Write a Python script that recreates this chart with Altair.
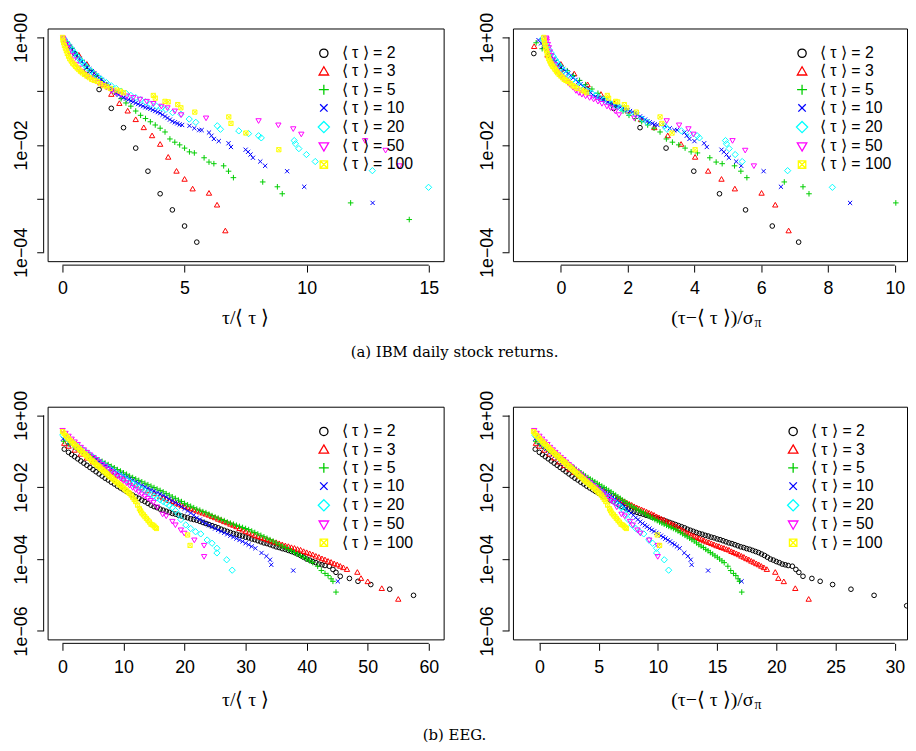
import altair as alt
import pandas as pd

SERIES = ["⟨ τ ⟩ = 2", "⟨ τ ⟩ = 3", "⟨ τ ⟩ = 5", "⟨ τ ⟩ = 10",
          "⟨ τ ⟩ = 20", "⟨ τ ⟩ = 50", "⟨ τ ⟩ = 100"]
COLORS = ["#000000", "#FF0000", "#00CD00", "#0000FF", "#00FFFF", "#FF00FF", "#FFFF00"]
SHAPES = [
    "circle",
    "M0,-1.15L1.15,0.85L-1.15,0.85Z",
    "M-1.2,0L1.2,0M0,-1.2L0,1.2",
    "M-0.9,-0.9L0.9,0.9M-0.9,0.9L0.9,-0.9",
    "M0,-1.35L1.35,0L0,1.35L-1.35,0Z",
    "M0,1.15L1.15,-0.85L-1.15,-0.85Z",
    "M-0.9,-0.9L0.9,-0.9L0.9,0.9L-0.9,0.9ZM-0.9,-0.9L0.9,0.9M-0.9,0.9L0.9,-0.9",
]

# ---------------- IBM daily stock returns ----------------
# x: tau/<tau>, z: (tau-<tau>)/sigma, lg: log10 of probability
i2_x = [0.5, 1.0, 1.5, 2.0, 2.5, 3.0, 3.5, 4.0, 4.5, 5.0, 5.5]
i2_z = [-0.81, 0.0, 0.79, 1.58, 2.37, 3.15, 3.98, 4.75, 5.53, 6.33, 7.12]
i2_lg = [-0.3, -0.62, -0.97, -1.32, -1.68, -2.06, -2.49, -2.91, -3.21, -3.51, -3.81]

i3_x = [0.33, 0.67, 1.0, 1.33, 1.67, 2.0, 2.33, 2.67, 3.0, 3.33, 3.67, 4.0, 4.33, 4.67, 5.0, 5.33, 6.0, 6.33, 6.67]
i3_z = [-0.8, -0.4, 0.0, 0.4, 0.8, 1.2, 1.6, 2.0, 2.4, 2.8, 3.2, 3.6, 4.02, 4.41, 4.81, 5.21, 6.01, 6.42, 6.82]
i3_lg = [-0.17, -0.33, -0.5, -0.68, -0.88, -1.06, -1.23, -1.37, -1.53, -1.68, -1.83, -1.99, -2.23, -2.49, -2.64, -2.82, -2.9, -3.12, -3.6]

i5_x = [0.2, 0.4, 0.6, 0.8, 1.0, 1.2, 1.4, 1.6, 1.8, 2.0,
        2.2, 2.4, 2.6, 2.8, 3.0, 3.2, 3.4, 3.6, 3.8, 4.0,
        4.2, 4.4, 4.6, 4.8, 5.0, 5.2, 5.4, 5.8, 6.0, 6.2,
        6.6, 6.8, 7.0, 8.2, 8.8, 9.0, 11.8, 14.2]
i5_z = [-0.74, -0.56, -0.37, -0.19, 0.0, 0.19, 0.37, 0.56, 0.74, 0.93,
        1.11, 1.3, 1.49, 1.67, 1.86, 2.04, 2.23, 2.42, 2.6, 2.79,
        2.97, 3.16, 3.34, 3.53, 3.72, 3.9, 4.09, 4.46, 4.65, 4.83,
        5.2, 5.39, 5.57, 6.69, 7.25, 7.43, 10.03, 12.26]
i5_lg = [-0.1, -0.21, -0.32, -0.43, -0.53, -0.62, -0.71, -0.8, -0.88, -0.96,
         -1.04, -1.14, -1.22, -1.28, -1.37, -1.45, -1.51, -1.57, -1.63, -1.69,
         -1.76, -1.89, -1.95, -2.0, -2.06, -2.13, -2.15, -2.24, -2.32, -2.35,
         -2.39, -2.49, -2.61, -2.69, -2.78, -2.91, -3.08, -3.39]

i10_x = [0.1, 0.2, 0.3, 0.4, 0.5, 0.6, 0.7, 0.8, 0.9, 1.0,
         1.1, 1.2, 1.3, 1.4, 1.5, 1.6, 1.7, 1.8, 1.9, 2.0,
         2.1, 2.2, 2.3, 2.4, 2.5, 2.6, 2.7, 2.8, 2.9, 3.0,
         3.1, 3.2, 3.3, 3.4, 3.5, 3.6, 3.7, 3.8, 3.9, 4.0,
         4.1, 4.2, 4.3, 4.4, 4.5, 4.6, 4.7, 4.8, 4.9,
         5.2, 5.4, 5.6, 5.7, 6.0, 6.1, 6.2, 6.4, 6.8, 6.9,
         7.5, 7.6, 7.7, 7.8, 8.1, 8.3, 9.2, 9.9, 12.7]
i10_z = [-0.67, -0.59, -0.52, -0.44, -0.37, -0.3, -0.22, -0.15, -0.07, 0.0,
         0.07, 0.15, 0.22, 0.3, 0.37, 0.44, 0.52, 0.59, 0.67, 0.74,
         0.81, 0.89, 0.96, 1.04, 1.11, 1.18, 1.26, 1.33, 1.41, 1.48,
         1.55, 1.63, 1.7, 1.78, 1.85, 1.92, 2.0, 2.07, 2.15, 2.22,
         2.29, 2.37, 2.44, 2.52, 2.59, 2.66, 2.74, 2.81, 2.89,
         3.11, 3.26, 3.4, 3.48, 3.7, 3.77, 3.85, 4.0, 4.29, 4.37,
         4.81, 4.88, 4.96, 5.03, 5.25, 5.4, 6.07, 6.59, 8.66]
i10_lg = [-0.05, -0.11, -0.17, -0.23, -0.29, -0.34, -0.4, -0.45, -0.5, -0.55,
          -0.59, -0.63, -0.67, -0.71, -0.75, -0.79, -0.83, -0.87, -0.91, -0.95,
          -0.99, -1.03, -1.07, -1.1, -1.12, -1.14, -1.16, -1.18, -1.2, -1.22,
          -1.24, -1.26, -1.28, -1.3, -1.31, -1.33, -1.35, -1.37, -1.39, -1.41,
          -1.44, -1.47, -1.5, -1.53, -1.56, -1.58, -1.6, -1.62, -1.63,
          -1.645, -1.69, -1.725, -1.725, -1.77, -1.83, -1.89, -1.93, -1.97, -2.04,
          -2.09, -2.13, -2.18, -2.24, -2.31, -2.39, -2.49, -2.78, -3.08]

i20_x = [0.05, 0.1, 0.2, 0.3, 0.4, 0.5, 0.6, 0.7, 0.8, 0.9,
         1.0, 1.15, 1.3, 1.45, 1.6, 1.8, 2.0, 2.2, 2.4, 2.6,
         2.8, 3.0, 3.2, 3.4, 3.6, 3.85, 4.05, 4.24, 4.51, 4.85,
         5.19, 5.46, 6.34, 6.47, 7.22, 7.62, 8.03, 8.14, 9.49, 9.54,
         9.68, 9.99, 10.35, 12.69, 14.99]
i20_z = [-0.55, -0.52, -0.46, -0.41, -0.35, -0.29, -0.23, -0.17, -0.12, -0.06,
         0.0, 0.09, 0.17, 0.26, 0.35, 0.46, 0.58, 0.7, 0.81, 0.93,
         1.05, 1.16, 1.28, 1.39, 1.51, 1.66, 1.77, 1.88, 2.04, 2.24,
         2.43, 2.59, 3.1, 3.18, 3.61, 3.85, 4.08, 4.15, 4.93, 4.96,
         5.04, 5.22, 5.43, 6.79, 8.13]
i20_lg = [-0.02, -0.05, -0.11, -0.17, -0.23, -0.29, -0.35, -0.41, -0.46, -0.51,
          -0.56, -0.62, -0.68, -0.73, -0.78, -0.84, -0.9, -0.95, -1.0, -1.04,
          -1.08, -1.12, -1.16, -1.2, -1.24, -1.28, -1.31, -1.34, -1.4, -1.43,
          -1.52, -1.58, -1.645, -1.71, -1.74, -1.79, -1.83, -1.87, -1.92, -1.98,
          -2.07, -2.18, -2.31, -2.48, -2.79]

i50_x = [0.02, 0.04, 0.08, 0.14, 0.2, 0.28, 0.36, 0.46, 0.56, 0.66,
         0.76, 0.88, 1.0, 1.14, 1.3, 1.46, 1.62, 1.8, 2.0, 2.2,
         2.4, 2.64, 2.9, 3.17, 3.45, 3.72, 4.05, 4.3, 4.6, 4.86,
         5.88, 8.03, 8.84, 9.45, 9.78, 12.39, 13.23, 13.8]
i50_z = [-0.44, -0.43, -0.42, -0.39, -0.36, -0.33, -0.29, -0.24, -0.2, -0.15,
         -0.11, -0.05, 0.0, 0.06, 0.14, 0.21, 0.28, 0.36, 0.45, 0.54,
         0.63, 0.74, 0.86, 0.98, 1.11, 1.23, 1.38, 1.49, 1.63, 1.74,
         2.2, 3.17, 3.54, 3.82, 3.97, 5.14, 5.52, 5.78]
i50_lg = [-0.01, -0.03, -0.07, -0.13, -0.19, -0.27, -0.34, -0.42, -0.5, -0.57,
          -0.63, -0.68, -0.72, -0.76, -0.8, -0.84, -0.88, -0.93, -0.99, -1.03,
          -1.06, -1.09, -1.12, -1.15, -1.19, -1.23, -1.28, -1.31, -1.37, -1.44,
          -1.5, -1.55, -1.63, -1.7, -1.8, -1.92, -2.1, -2.39]

i100_x = [0.01, 0.02, 0.05, 0.08, 0.12, 0.16, 0.2, 0.25, 0.3, 0.36,
          0.42, 0.48, 0.54, 0.6, 0.67, 0.74, 0.81, 0.9, 1.0, 1.1,
          1.2, 1.3, 1.42, 1.55, 1.7, 1.82, 1.96, 2.23, 2.37, 2.5,
          3.72, 3.8, 4.2, 4.33, 4.72, 4.85, 5.42, 6.81, 6.9, 7.51,
          8.86]
i100_z = [-0.51, -0.5, -0.49, -0.47, -0.45, -0.43, -0.41, -0.38, -0.36, -0.33,
          -0.3, -0.27, -0.24, -0.2, -0.17, -0.13, -0.1, -0.05, 0.0, 0.05,
          0.1, 0.15, 0.21, 0.28, 0.36, 0.42, 0.49, 0.63, 0.7, 0.77,
          1.39, 1.43, 1.64, 1.7, 1.9, 1.97, 2.26, 2.97, 3.02, 3.33,
          4.02]
i100_lg = [0.0, -0.05, -0.1, -0.15, -0.2, -0.25, -0.3, -0.35, -0.4, -0.44,
           -0.48, -0.51, -0.54, -0.57, -0.6, -0.63, -0.66, -0.69, -0.72, -0.75,
           -0.78, -0.8, -0.82, -0.86, -0.9, -0.92, -0.95, -0.98, -1.0, -1.03,
           -1.08, -1.13, -1.19, -1.2, -1.25, -1.31, -1.39, -1.48, -1.6, -1.78,
           -2.09]

# ---------------- EEG ----------------
e2_x = [0.3, 1, 2, 3, 4, 5, 6, 7, 8, 9,
        10, 11, 12, 13, 14, 15, 16, 17, 18, 19,
        20, 21, 22, 23, 24, 25, 26, 27, 28, 29,
        30, 31, 32, 33, 34, 35, 36, 37, 38, 39,
        40, 41, 42, 43, 43.7, 44.3, 44.8, 45.5, 47, 48.4,
        50.5, 53.6, 57.5, 63.0]
e2_z = [-0.35, 0, 0.5, 1, 1.5, 2, 2.5, 3, 3.5, 4,
        4.5, 5, 5.5, 6, 6.5, 7, 7.5, 8, 8.5, 9,
        9.5, 10, 10.5, 11, 11.5, 12, 12.5, 13, 13.5, 14,
        14.5, 15, 15.5, 16, 16.5, 17, 17.5, 18, 18.5, 19,
        19.5, 20, 20.5, 21, 21.35, 21.65, 21.9, 22.25, 23, 23.7,
        24.75, 26.3, 28.25, 31.0]
e2_lg = [-0.94, -1.03, -1.15, -1.27, -1.39, -1.51, -1.63, -1.75, -1.86, -1.97,
         -2.07, -2.17, -2.27, -2.36, -2.45, -2.54, -2.61, -2.67, -2.73, -2.78,
         -2.83, -2.88, -2.92, -2.98, -3.04, -3.1, -3.17, -3.23, -3.29, -3.34,
         -3.39, -3.44, -3.49, -3.55, -3.6, -3.66, -3.71, -3.76, -3.82, -3.9,
         -4.0, -4.07, -4.14, -4.18, -4.2, -4.29, -4.37, -4.48, -4.54, -4.62,
         -4.71, -4.84, -5.01, -5.3]
e2m_x = [1.5, 2.5, 3.5, 4.5, 5.5, 6.5, 7.5, 8.5, 9.5, 10.5,
         11.5, 12.5, 13.5, 14.5, 15.5, 16.5, 17.5, 18.5, 19.5, 20.5,
         21.5, 22.5, 23.5, 24.5, 25.5, 26.5, 27.5, 28.5, 29.5, 30.5,
         31.5, 32.5, 33.5, 34.5, 35.5, 36.5, 37.5, 38.5, 39.5, 40.5,
         41.5, 42.5]
e2m_z = [0.25, 0.75, 1.25, 1.75, 2.25, 2.75, 3.25, 3.75, 4.25, 4.75,
         5.25, 5.75, 6.25, 6.75, 7.25, 7.75, 8.25, 8.75, 9.25, 9.75,
         10.25, 10.75, 11.25, 11.75, 12.25, 12.75, 13.25, 13.75, 14.25, 14.75,
         15.25, 15.75, 16.25, 16.75, 17.25, 17.75, 18.25, 18.75, 19.25, 19.75,
         20.25, 20.75]
e2m_lg = [-1.09, -1.21, -1.33, -1.45, -1.57, -1.69, -1.8, -1.91, -2.02, -2.12,
          -2.22, -2.31, -2.4, -2.5, -2.57, -2.64, -2.7, -2.75, -2.8, -2.85,
          -2.9, -2.95, -3.01, -3.07, -3.13, -3.2, -3.26, -3.31, -3.36, -3.41,
          -3.46, -3.52, -3.57, -3.63, -3.68, -3.73, -3.79, -3.86, -3.95, -4.03,
          -4.1, -4.16]

e3_x = [0.3, 1, 2, 3, 4, 5, 6, 7, 8, 9,
        10, 11, 12, 13, 14, 15, 16, 17, 18, 19,
        20, 21, 22, 23, 24, 25, 26, 27, 28, 29,
        30, 31, 32, 33, 34, 35, 36, 37, 38, 39,
        40, 41, 42, 43, 44, 45, 46, 46.6, 48.3, 48.9,
        50, 52.3, 55]
e3_z = [-0.29, 0, 0.42, 0.84, 1.26, 1.68, 2.1, 2.53, 2.95, 3.37,
        3.79, 4.21, 4.63, 5.05, 5.47, 5.89, 6.32, 6.74, 7.16, 7.58,
        8.0, 8.42, 8.84, 9.26, 9.68, 10.1, 10.53, 10.95, 11.37, 11.79,
        12.21, 12.63, 13.05, 13.47, 13.89, 14.31, 14.74, 15.16, 15.58, 16.0,
        16.42, 16.84, 17.26, 17.68, 18.1, 18.52, 18.95, 19.2, 19.91, 20.17,
        20.63, 21.6, 22.73]
e3_lg = [-0.78, -0.86, -0.97, -1.08, -1.19, -1.3, -1.4, -1.5, -1.59, -1.68,
         -1.77, -1.86, -1.94, -2.02, -2.1, -2.18, -2.26, -2.33, -2.4, -2.47,
         -2.54, -2.6, -2.66, -2.72, -2.78, -2.85, -2.92, -2.99, -3.06, -3.15,
         -3.23, -3.3, -3.37, -3.43, -3.49, -3.54, -3.6, -3.65, -3.7, -3.75,
         -3.82, -3.88, -3.95, -4.02, -4.09, -4.16, -4.24, -4.29, -4.37, -4.54,
         -4.63, -4.82, -5.12]
e3m_x = [16.5, 17.5, 18.5, 19.5, 20.5, 21.5, 22.5, 23.5, 24.5, 25.5,
         26.5, 27.5, 28.5, 29.5, 30.5, 31.5, 32.5, 33.5, 34.5, 35.5,
         36.5, 37.5, 38.5, 39.5, 40.5, 41.5, 42.5, 43.5, 44.5, 45.5]
e3m_z = [6.53, 6.95, 7.37, 7.79, 8.21, 8.63, 9.05, 9.47, 9.89, 10.31,
         10.74, 11.16, 11.58, 12.0, 12.42, 12.84, 13.26, 13.68, 14.1, 14.52,
         14.95, 15.37, 15.79, 16.21, 16.63, 17.05, 17.47, 17.89, 18.31, 18.73]
e3m_lg = [-2.3, -2.37, -2.44, -2.5, -2.57, -2.63, -2.69, -2.75, -2.82, -2.89,
          -2.96, -3.03, -3.1, -3.19, -3.27, -3.34, -3.4, -3.46, -3.52, -3.57,
          -3.63, -3.68, -3.73, -3.79, -3.85, -3.92, -3.99, -4.06, -4.13, -4.2]

e5_x = [0.2, 1, 2, 3, 4, 5, 6, 7, 8, 9,
        10, 11, 12, 13, 14, 15, 16, 17, 18, 19,
        20, 21, 22, 23, 24, 25, 26, 27, 28, 29,
        30, 31, 32, 33, 34, 35, 36, 37, 38, 39,
        40, 41, 41.8, 42.4, 43, 43.5, 44, 44.3, 44.8]
e5_z = [-0.31, 0, 0.39, 0.78, 1.17, 1.56, 1.95, 2.34, 2.73, 3.12,
        3.51, 3.9, 4.29, 4.68, 5.07, 5.46, 5.85, 6.24, 6.63, 7.02,
        7.41, 7.8, 8.19, 8.58, 8.97, 9.36, 9.75, 10.14, 10.53, 10.92,
        11.31, 11.7, 12.09, 12.48, 12.87, 13.26, 13.65, 14.04, 14.43, 14.82,
        15.21, 15.6, 15.91, 16.15, 16.38, 16.58, 16.77, 16.89, 17.08]
e5_lg = [-0.72, -0.79, -0.88, -0.97, -1.06, -1.15, -1.24, -1.33, -1.42, -1.51,
         -1.6, -1.69, -1.77, -1.85, -1.93, -2.01, -2.09, -2.18, -2.27, -2.36,
         -2.45, -2.53, -2.61, -2.68, -2.75, -2.83, -2.9, -2.97, -3.03, -3.09,
         -3.15, -3.22, -3.3, -3.38, -3.46, -3.55, -3.64, -3.73, -3.82, -3.91,
         -4.0, -4.1, -4.2, -4.32, -4.4, -4.46, -4.55, -4.62, -4.92]
e5m_x = [4.5, 5.5, 6.5, 7.5, 8.5, 9.5, 10.5, 11.5, 12.5, 13.5,
         14.5, 15.5, 16.5, 17.5, 18.5, 19.5, 20.5, 21.5, 22.5, 23.5,
         24.5, 25.5, 26.5, 27.5, 28.5, 29.5, 30.5, 31.5, 32.5, 33.5,
         34.5, 35.5, 36.5, 37.5, 38.5, 39.5, 40.5]
e5m_z = [1.37, 1.76, 2.15, 2.54, 2.93, 3.32, 3.71, 4.1, 4.49, 4.88,
         5.27, 5.66, 6.05, 6.44, 6.83, 7.22, 7.61, 8.0, 8.39, 8.78,
         9.17, 9.56, 9.95, 10.34, 10.73, 11.12, 11.51, 11.9, 12.29, 12.68,
         13.07, 13.46, 13.85, 14.24, 14.63, 15.02, 15.41]
e5m_lg = [-1.1, -1.19, -1.28, -1.37, -1.46, -1.55, -1.64, -1.73, -1.81, -1.89,
          -1.97, -2.05, -2.13, -2.22, -2.31, -2.4, -2.49, -2.57, -2.64, -2.71,
          -2.79, -2.86, -2.93, -3.0, -3.06, -3.12, -3.18, -3.26, -3.34, -3.42,
          -3.5, -3.6, -3.68, -3.77, -3.86, -3.95, -4.05]

e10_x = [0.1, 1, 2, 3, 4, 5, 6, 7, 8, 9,
         10, 11, 12, 13, 14, 15, 16, 17, 18, 19,
         20, 21, 22, 23, 24, 25, 26, 27, 28, 29,
         30, 31, 31.6, 32.6, 33.4, 34, 34.2, 37.8, 45.1]
e10_z = [-0.35, 0, 0.39, 0.77, 1.16, 1.55, 1.94, 2.32, 2.71, 3.1,
         3.48, 3.87, 4.26, 4.64, 5.03, 5.42, 5.81, 6.19, 6.58, 6.97,
         7.35, 7.74, 8.13, 8.51, 8.9, 9.29, 9.68, 10.06, 10.45, 10.84,
         11.22, 11.61, 11.84, 12.23, 12.54, 12.77, 12.85, 14.24, 17.07]
e10_lg = [-0.65, -0.77, -0.88, -0.98, -1.08, -1.18, -1.29, -1.39, -1.49, -1.59,
          -1.68, -1.77, -1.86, -1.95, -2.03, -2.11, -2.19, -2.28, -2.38, -2.48,
          -2.6, -2.72, -2.85, -2.96, -3.06, -3.15, -3.23, -3.31, -3.39, -3.47,
          -3.56, -3.65, -3.7, -3.83, -3.92, -4.02, -4.16, -4.32, -4.62]
e10m_x = [1.5, 2.5, 3.5, 4.5, 5.5, 6.5, 7.5, 8.5, 9.5, 10.5,
          11.5, 12.5, 13.5, 14.5, 15.5, 16.5, 17.5, 18.5, 19.5, 20.5,
          21.5, 22.5, 23.5, 24.5, 25.5, 26.5, 27.5, 28.5, 29.5, 30.5]
e10m_z = [0.19, 0.58, 0.97, 1.35, 1.74, 2.13, 2.52, 2.9, 3.29, 3.68,
          4.06, 4.45, 4.84, 5.22, 5.61, 6.0, 6.39, 6.77, 7.16, 7.55,
          7.93, 8.32, 8.71, 9.09, 9.48, 9.87, 10.26, 10.64, 11.03, 11.42]
e10m_lg = [-0.82, -0.93, -1.03, -1.13, -1.23, -1.34, -1.44, -1.54, -1.63, -1.72,
           -1.81, -1.9, -1.99, -2.07, -2.15, -2.23, -2.33, -2.43, -2.54, -2.66,
           -2.78, -2.9, -3.01, -3.1, -3.19, -3.27, -3.35, -3.43, -3.51, -3.6]

e20_x = [0.05, 1, 2, 3, 4, 5, 6, 7, 8, 9,
         10, 11, 12, 13, 14, 15, 16, 17, 18, 19,
         19.4, 20.2, 21, 21.8, 22.65, 23.7, 24.5, 25.3, 25.3, 26.9,
         27.8]
e20_z = [-0.39, 0, 0.41, 0.81, 1.22, 1.63, 2.04, 2.44, 2.85, 3.26,
         3.66, 4.07, 4.48, 4.88, 5.29, 5.7, 6.1, 6.51, 6.92, 7.33,
         7.49, 7.81, 8.14, 8.47, 8.81, 9.24, 9.56, 9.89, 9.89, 10.54,
         10.91]
e20_lg = [-0.55, -0.68, -0.8, -0.92, -1.04, -1.16, -1.28, -1.4, -1.52, -1.63,
          -1.74, -1.85, -1.95, -2.05, -2.15, -2.25, -2.35, -2.45, -2.57, -2.75,
          -2.9, -3.05, -3.15, -3.24, -3.3, -3.47, -3.56, -3.7, -3.83, -4.02,
          -4.31]
e20m_x = [1.5, 2.5, 3.5, 4.5, 5.5, 6.5, 7.5, 8.5, 9.5, 10.5,
          11.5, 12.5, 13.5, 14.5, 15.5, 16.5, 17.5, 18.5]
e20m_z = [0.2, 0.61, 1.02, 1.42, 1.83, 2.24, 2.65, 3.05, 3.46, 3.87,
          4.27, 4.68, 5.09, 5.49, 5.9, 6.31, 6.72, 7.12]
e20m_lg = [-0.74, -0.86, -0.98, -1.1, -1.22, -1.34, -1.46, -1.58, -1.69, -1.8,
           -1.9, -2.0, -2.1, -2.2, -2.3, -2.4, -2.51, -2.65]

e50_x = [0.02, 1, 2, 3, 4, 5, 6, 7, 8, 9,
         10, 11, 12, 13, 14, 14.9, 15.5, 16.4, 17, 18,
         18.5, 19.4, 19.95, 21.6, 23.2, 23.2]
e50_z = [-0.44, 0, 0.45, 0.9, 1.35, 1.8, 2.25, 2.7, 3.15, 3.6,
         4.05, 4.5, 4.95, 5.4, 5.85, 6.26, 6.53, 6.93, 7.2, 7.65,
         7.88, 8.28, 8.53, 9.27, 9.99, 9.99]
e50_lg = [-0.42, -0.58, -0.74, -0.89, -1.03, -1.17, -1.3, -1.43, -1.56, -1.69,
          -1.82, -1.95, -2.07, -2.19, -2.31, -2.42, -2.55, -2.75, -2.8, -2.95,
          -3.05, -3.19, -3.28, -3.47, -3.62, -3.93]
e50m_x = [0.5, 1.5, 2.5, 3.5, 4.5, 5.5, 6.5, 7.5, 8.5, 9.5,
          10.5, 11.5, 12.5, 13.5, 14.45]
e50m_z = [-0.23, 0.23, 0.68, 1.13, 1.58, 2.03, 2.48, 2.93, 3.38, 3.83,
          4.28, 4.73, 5.18, 5.63, 6.05]
e50m_lg = [-0.5, -0.66, -0.81, -0.96, -1.1, -1.23, -1.37, -1.5, -1.63, -1.75,
           -1.88, -2.01, -2.13, -2.25, -2.37]

e100_x = [0.01, 0.5, 1, 1.5, 2, 2.5, 3, 3.5, 4, 4.5,
          5, 5.5, 6, 6.5, 7, 7.5, 8, 8.5, 9, 9.5,
          10, 10.5, 11, 11.5, 12, 12.6, 13, 13.5, 14, 14.5,
          15, 15.4, 20.5, 20.9]
e100_z = [-0.5, -0.26, 0, 0.26, 0.51, 0.77, 1.02, 1.28, 1.53, 1.79,
          2.04, 2.3, 2.55, 2.81, 3.06, 3.32, 3.57, 3.83, 4.08, 4.34,
          4.59, 4.85, 5.1, 5.36, 5.61, 5.92, 6.12, 6.38, 6.63, 6.89,
          7.14, 7.34, 9.95, 10.15]
e100_lg = [-0.45, -0.56, -0.65, -0.74, -0.82, -0.9, -0.98, -1.06, -1.13, -1.21,
           -1.28, -1.36, -1.43, -1.51, -1.58, -1.66, -1.73, -1.81, -1.88, -1.95,
           -2.02, -2.1, -2.17, -2.28, -2.4, -2.6, -2.72, -2.82, -2.92, -3.03,
           -3.08, -3.15, -3.33, -3.62]
e100m_x = [0.25, 0.75, 1.25, 1.75, 2.25, 2.75, 3.25, 3.75, 4.25, 4.75,
           5.25, 5.75, 6.25, 6.75, 7.25, 7.75, 8.25, 8.75, 9.25, 9.75,
           10.25, 10.75, 11.25, 11.75, 12.3, 12.8, 13.25, 13.75, 14.25, 14.75,
           15.2]
e100m_z = [-0.38, -0.13, 0.13, 0.38, 0.64, 0.89, 1.15, 1.4, 1.66, 1.91,
           2.17, 2.42, 2.68, 2.93, 3.19, 3.44, 3.7, 3.95, 4.21, 4.46,
           4.72, 4.97, 5.23, 5.48, 5.76, 6.02, 6.25, 6.5, 6.76, 7.01,
           7.24]
e100m_lg = [-0.5, -0.6, -0.7, -0.78, -0.86, -0.94, -1.02, -1.1, -1.17, -1.25,
            -1.32, -1.4, -1.47, -1.55, -1.62, -1.7, -1.77, -1.85, -1.92, -1.99,
            -2.06, -2.14, -2.22, -2.34, -2.5, -2.66, -2.77, -2.87, -2.97, -3.05,
            -3.12]


def frame(groups):
    """groups: per series, a list of (positions, log10 values) pairs."""
    rows = []
    for name, parts in zip(SERIES, groups):
        for xs, lgs in parts:
            for xv, g in zip(xs, lgs):
                rows.append({"x": xv, "y": 10 ** g, "s": name})
    return pd.DataFrame(rows)


df1 = frame([[(i2_x, i2_lg)], [(i3_x, i3_lg)], [(i5_x, i5_lg)], [(i10_x, i10_lg)],
             [(i20_x, i20_lg)], [(i50_x, i50_lg)], [(i100_x, i100_lg)]])
df2 = frame([[(i2_z, i2_lg)], [(i3_z, i3_lg)], [(i5_z, i5_lg)], [(i10_z, i10_lg)],
             [(i20_z, i20_lg)], [(i50_z, i50_lg)], [(i100_z, i100_lg)]])
df3 = frame([[(e2_x, e2_lg), (e2m_x, e2m_lg)], [(e3_x, e3_lg), (e3m_x, e3m_lg)],
             [(e5_x, e5_lg), (e5m_x, e5m_lg)], [(e10_x, e10_lg), (e10m_x, e10m_lg)],
             [(e20_x, e20_lg), (e20m_x, e20m_lg)], [(e50_x, e50_lg), (e50m_x, e50m_lg)],
             [(e100_x, e100_lg), (e100m_x, e100m_lg)]])
df4 = frame([[(e2_z, e2_lg), (e2m_z, e2m_lg)], [(e3_z, e3_lg), (e3m_z, e3m_lg)],
             [(e5_z, e5_lg), (e5m_z, e5m_lg)], [(e10_z, e10_lg), (e10m_z, e10m_lg)],
             [(e20_z, e20_lg), (e20m_z, e20m_lg)], [(e50_z, e50_lg), (e50m_z, e50m_lg)],
             [(e100_z, e100_lg), (e100m_z, e100m_lg)]])

ONE = pd.DataFrame({"k": [0]})
H = 235
SANS = "Liberation Sans"
TSERIF = "Liberation Serif"
CSERIF = "DejaVu Serif"
YEXPR = ("datum.value >= 0.999 ? '1e+00' : "
         "(abs(round(log(datum.value) / LN10)) % 2 == 0 ? "
         "'1e\u22120' + abs(round(log(datum.value) / LN10)) : '')")


def text(label, x, y, size, font=TSERIF, align="center"):
    return alt.Chart(ONE).mark_text(
        font=font, fontSize=size, align=align, baseline="middle", color="black"
    ).encode(x=alt.value(x), y=alt.value(y), text=alt.value(label))


def panel(df, width, xdom, xticks, ydom, yticks, leg_xy, titles, caption=None):
    leg = alt.Legend(title=None, orient="none", legendX=leg_xy[0], legendY=leg_xy[1],
                     labelFont=SANS, labelFontSize=16, labelColor="black",
                     symbolSize=70, symbolStrokeWidth=1.3, rowPadding=2.4,
                     labelOffset=10, labelLimit=200)
    xaxis = alt.Axis(values=xticks, title=None)
    yaxis = alt.Axis(values=yticks, title=None, labelExpr=YEXPR,
                     labelAngle=270, labelAlign="center", labelBaseline="bottom")
    xscale = alt.Scale(domain=xdom, nice=False, zero=False)
    yscale = alt.Scale(type="log", domain=ydom, nice=False)
    pts = alt.Chart(df).mark_point(filled=False, size=22, strokeWidth=1,
                                   opacity=1, clip=True).encode(
        x=alt.X("x:Q", scale=xscale, axis=xaxis),
        y=alt.Y("y:Q", scale=yscale, axis=yaxis),
        color=alt.Color("s:N", scale=alt.Scale(domain=SERIES, range=COLORS), legend=leg),
        shape=alt.Shape("s:N", scale=alt.Scale(domain=SERIES, range=SHAPES), legend=leg),
    )
    xline = alt.Chart(ONE).mark_rule(color="black", strokeWidth=1).encode(
        x=alt.XDatum(datum=xticks[0]),
        x2=alt.X2Datum(datum=xticks[-1]),
        y=alt.value(H + 4),
    )
    yline = alt.Chart(ONE).mark_rule(color="black", strokeWidth=1).encode(
        y=alt.YDatum(datum=yticks[0]),
        y2=alt.Y2Datum(datum=yticks[-1]),
        x=alt.value(-4),
    )
    layers = [pts, xline, yline] + titles
    if caption is not None:
        layers.append(caption)
    return alt.layer(*layers).properties(width=width, height=H)


IBM_YDOM = [6.85e-5, 1.465]
IBM_YT = [1, 0.1, 0.01, 0.001, 0.0001]
EEG_YDOM = [5.8e-7, 1.74]
EEG_YT = [1, 0.01, 0.0001, 0.000001]

p1 = panel(df1, 400, [-0.608, 15.608], [0, 5, 10, 15], IBM_YDOM, IBM_YT, (271, 17),
           [text("τ/⟨ τ ⟩", 200, 292, 20)],
           text("(a) IBM daily stock returns.", 411, 327, 15, font=CSERIF))
p2 = panel(df2, 398, [-1.435, 10.365], [0, 2, 4, 6, 8, 10], IBM_YDOM, IBM_YT, (284, 17),
           [text("(τ−⟨ τ ⟩)/σ", 243, 292, 20, align="right"),
            text("π", 244, 297, 14, align="left")])
p3 = panel(df3, 400, [-2.432, 62.432], [0, 10, 20, 30, 40, 50, 60], EEG_YDOM, EEG_YT, (271, 17),
           [text("τ/⟨ τ ⟩", 200, 296, 20)],
           text("(b) EEG.", 411, 332, 15, font=CSERIF))
p4 = panel(df4, 398, [-2.231, 31.03], [0, 5, 10, 15, 20, 25, 30], EEG_YDOM, EEG_YT, (275, 17),
           [text("(τ−⟨ τ ⟩)/σ", 243, 296, 20, align="right"),
            text("π", 244, 301, 14, align="left")])

chart = alt.concat(
    p1, p2, p3, p4, columns=2, spacing={"row": 147, "column": 70}, bounds="flush"
).resolve_scale(
    color="independent", shape="independent"
).properties(
    padding={"left": 4, "top": 0, "right": 0, "bottom": 0},
    background="white",
).configure_view(
    stroke="black", strokeWidth=1
).configure_axis(
    domain=False, grid=False, ticks=True, tickColor="black", tickSize=7, tickWidth=1,
    labelFont=SANS, labelFontSize=18, labelColor="black", offset=4,
    labelOverlap=False, labelFlush=False,
).configure_axisX(
    labelPadding=8
).configure_axisY(
    labelPadding=6
)

chart.save("out.html", embed_options={"renderer": "svg", "actions": False})
